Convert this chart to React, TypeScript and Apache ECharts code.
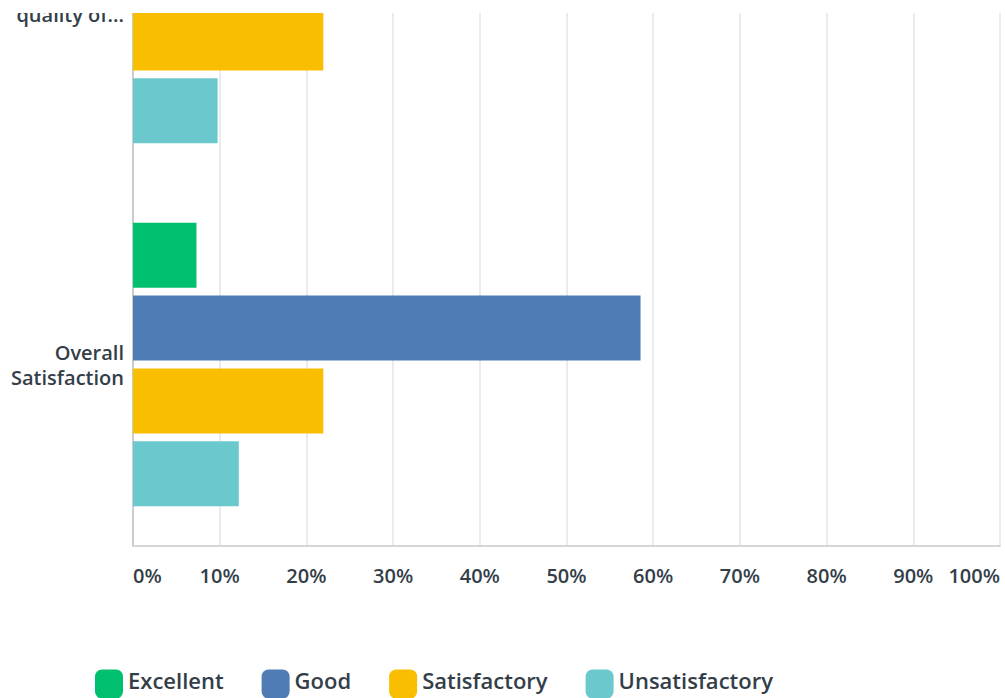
import React, { useEffect, useRef } from "react";
import * as echarts from "echarts";

const categories = ["Instructor\nquality of...", "Overall\nSatisfaction"];
const seriesNames = ["Excellent", "Good", "Satisfactory", "Unsatisfactory"];
const excellent = [9.76, 7.32];
const good = [58.54, 58.54];
const satisfactory = [21.95, 21.95];
const unsatisfactory = [9.76, 12.2];
const colors = ["#00BF6F", "#507CB6", "#F9BE00", "#6BC8CD"];

export default function App() {
  const ref = useRef<HTMLDivElement>(null);
  useEffect(() => {
    if (!ref.current) return;
    const chart = echarts.init(ref.current, undefined, { renderer: "svg" });
    const values = [excellent, good, satisfactory, unsatisfactory];
    const font = "'Open Sans', 'Noto Sans', sans-serif";
    chart.setOption({
      animation: false,
      color: colors,
      grid: { left: 133, right: 5, top: 0, bottom: 152, containLabel: false },
      legend: {
        left: 95,
        top: 849,
        padding: 0,
        itemWidth: 28,
        itemHeight: 29,
        itemGap: 38,
        icon: "roundRect",
        data: seriesNames,
        formatter: (name: string) => `{t|${name}}`,
        textStyle: {
          color: "#333E48",
          fontSize: 22,
          fontWeight: 600,
          fontFamily: font,
          rich: {
            t: {
              color: "#333E48",
              fontSize: 22,
              fontWeight: 600,
              fontFamily: font,
              lineHeight: 21,
              padding: [0, 0, 8, 0],
            },
          },
        },
      },
      xAxis: {
        type: "value",
        min: 0,
        max: 100,
        interval: 10,
        axisLine: { show: true, lineStyle: { color: "#D6D6D6", width: 2 } },
        axisTick: { show: false },
        splitLine: { show: true, lineStyle: { color: "#EBEBEB", width: 2 } },
        axisLabel: {
          formatter: "{value}%",
          margin: 19,
          color: "#333E48",
          fontSize: 20,
          fontWeight: 600,
          fontFamily: font,
          alignMinLabel: "left",
          alignMaxLabel: "right",
        },
      },
      yAxis: {
        type: "category",
        inverse: true,
        data: categories,
        axisLine: { show: true, lineStyle: { color: "#CCCCCC", width: 2 } },
        axisTick: { show: false },
        axisLabel: {
          margin: 9,
          color: "#333E48",
          fontSize: 20,
          fontWeight: 600,
          lineHeight: 25,
          fontFamily: font,
        },
      },
      series: seriesNames.map((name, i) => ({
        name,
        type: "bar",
        data: values[i],
        barWidth: 65,
        barGap: "12%",
      })),
    });
    return () => chart.dispose();
  }, []);
  return (
    <div style={{ position: "fixed", left: 0, top: 0, width: 1005, height: 698, overflow: "hidden", background: "#fff" }}>
      <div style={{ position: "absolute", left: 0, top: 13, width: 1005, height: 685, overflow: "hidden" }}>
        <div ref={ref} style={{ position: "absolute", left: 0, top: -193, width: 1005, height: 878 }} />
      </div>
    </div>
  );
}
